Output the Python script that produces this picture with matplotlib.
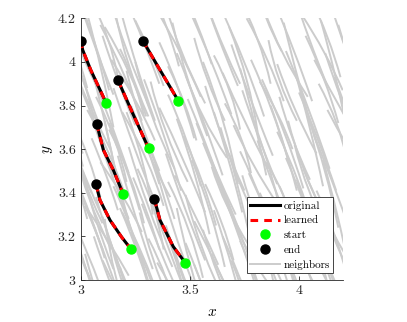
import matplotlib
matplotlib.use('Agg')
import matplotlib.pyplot as plt
from matplotlib.path import Path
from matplotlib.patches import PathPatch
from matplotlib.lines import Line2D

plt.rcParams['font.family'] = 'serif'
plt.rcParams['font.serif'] = ['cmr10', 'DejaVu Serif']
plt.rcParams['mathtext.fontset'] = 'cm'
plt.rcParams['axes.unicode_minus'] = False

# neighbor trajectories: upper point, displacement to lower point, bend
nb_x0 = [2.88, 2.97, 3.05, 3.12, 3.20, 3.31, 3.38, 3.47, 3.55, 3.63, 3.72, 3.80, 3.88, 3.97, 4.05, 4.14,
         2.84, 2.93, 3.02, 3.10, 3.18, 3.25, 3.36, 3.44, 3.52, 3.61, 3.69, 3.78, 3.86, 3.94, 4.03, 4.12,
         2.82, 2.90, 2.99, 3.07, 3.15, 3.23, 3.32, 3.40, 3.49, 3.57, 3.66, 3.74, 3.83, 3.91, 4.00, 4.09,
         2.80, 2.89, 2.97, 3.05, 3.13, 3.22, 3.30, 3.39, 3.47, 3.56, 3.64, 3.73, 3.81, 3.90, 3.98, 4.07,
         2.82, 2.90, 2.98, 3.07, 3.15, 3.24, 3.31, 3.40, 3.48, 3.57, 3.65, 3.74, 3.82, 3.91, 3.99, 4.08,
         2.81, 2.89, 2.98, 3.06, 3.14, 3.23, 3.31, 3.39, 3.48, 3.56, 3.65, 3.73, 3.82, 3.90, 3.98, 4.07,
         2.86, 2.95, 3.03, 3.11, 3.19, 2.87, 2.96, 3.04, 3.13, 3.21, 2.85, 2.94, 3.02, 3.10, 3.18, 3.27,
         2.92, 3.01, 3.09, 3.16, 3.25, 3.34, 3.42, 3.51, 3.59, 3.68, 3.76, 3.84, 3.93, 4.01, 4.10, 4.18,
         2.87, 2.96, 3.06, 3.14, 3.21, 3.29, 3.40, 3.48, 3.56, 3.65, 3.73, 3.82, 3.90, 3.98, 4.07, 4.16,
         2.85, 2.94, 3.03, 3.11, 3.19, 3.27, 3.36, 3.44, 3.53, 3.61, 3.70, 3.78, 3.87, 3.95, 4.04, 4.13,
         2.84, 2.93, 3.01, 3.09, 3.17, 3.26, 3.34, 3.43, 3.51, 3.60, 3.68, 3.77, 3.85, 3.94, 4.02, 4.11,
         2.86, 2.94, 3.02, 3.11, 3.19, 3.28, 3.35, 3.44, 3.52, 3.61, 3.69, 3.78, 3.86, 3.95, 4.03, 4.12,
         2.85, 2.93, 3.02, 3.10, 3.18, 3.27, 3.35, 3.43, 3.52, 3.60, 3.69, 3.77, 3.86, 3.94, 4.02, 4.11]
nb_y0 = [4.30, 4.35, 4.28, 4.33, 4.30, 4.36, 4.29, 4.32, 4.34, 4.27, 4.31, 4.35, 4.29, 4.33, 4.30, 4.28,
         4.05, 4.10, 4.02, 4.12, 4.06, 4.00, 4.09, 4.04, 4.11, 4.03, 4.08, 4.01, 4.10, 4.05, 4.12, 4.04,
         3.86, 3.82, 3.90, 3.84, 3.88, 3.80, 3.91, 3.85, 3.83, 3.89, 3.81, 3.87, 3.92, 3.84, 3.86, 3.90,
         3.62, 3.67, 3.60, 3.65, 3.69, 3.61, 3.64, 3.58, 3.66, 3.63, 3.70, 3.59, 3.64, 3.68, 3.62, 3.66,
         3.44, 3.40, 3.46, 3.38, 3.43, 3.47, 3.41, 3.45, 3.39, 3.44, 3.42, 3.48, 3.40, 3.43, 3.46, 3.41,
         3.21, 3.18, 3.24, 3.20, 3.16, 3.22, 3.19, 3.25, 3.17, 3.23, 3.20, 3.18, 3.24, 3.21, 3.19, 3.22,
         4.20, 4.18, 4.22, 4.16, 4.21, 3.76, 3.74, 3.78, 3.72, 3.77, 3.32, 3.30, 3.34, 3.29, 3.33, 3.31,
         4.20, 4.24, 4.17, 4.22, 4.19, 4.25, 4.18, 4.21, 4.23, 4.16, 4.20, 4.24, 4.18, 4.22, 4.19, 4.17,
         3.95, 3.99, 3.93, 4.01, 3.96, 3.92, 3.98, 3.94, 4.00, 3.95, 3.97, 3.91, 3.99, 3.96, 4.01, 3.93,
         3.75, 3.71, 3.78, 3.73, 3.77, 3.70, 3.79, 3.74, 3.72, 3.77, 3.71, 3.76, 3.80, 3.73, 3.75, 3.78,
         3.52, 3.56, 3.50, 3.54, 3.57, 3.51, 3.53, 3.48, 3.55, 3.52, 3.58, 3.49, 3.54, 3.56, 3.51, 3.55,
         3.32, 3.29, 3.34, 3.28, 3.31, 3.35, 3.30, 3.33, 3.27, 3.32, 3.30, 3.36, 3.29, 3.31, 3.34, 3.30,
         3.10, 3.07, 3.12, 3.09, 3.06, 3.11, 3.08, 3.13, 3.07, 3.12, 3.09, 3.07, 3.13, 3.10, 3.08, 3.11]
nb_dx = [0.15, 0.18, 0.12, 0.20, 0.16, 0.14, 0.19, 0.13, 0.17, 0.21, 0.15, 0.12, 0.18, 0.16, 0.14, 0.19,
         0.17, 0.13, 0.20, 0.15, 0.11, 0.18, 0.16, 0.21, 0.14, 0.12, 0.19, 0.17, 0.13, 0.20, 0.15, 0.16,
         0.12, 0.19, 0.16, 0.14, 0.21, 0.13, 0.17, 0.15, 0.20, 0.18, 0.12, 0.16, 0.19, 0.14, 0.17, 0.13,
         0.19, 0.14, 0.17, 0.12, 0.16, 0.20, 0.13, 0.18, 0.15, 0.21, 0.14, 0.19, 0.12, 0.17, 0.16, 0.20,
         0.14, 0.20, 0.13, 0.18, 0.15, 0.12, 0.21, 0.16, 0.19, 0.13, 0.17, 0.15, 0.20, 0.12, 0.18, 0.14,
         0.16, 0.12, 0.19, 0.15, 0.20, 0.17, 0.13, 0.14, 0.18, 0.16, 0.21, 0.13, 0.15, 0.19, 0.12, 0.17,
         0.14, 0.17, 0.12, 0.19, 0.15, 0.16, 0.13, 0.18, 0.14, 0.12, 0.17, 0.15, 0.19, 0.13, 0.16, 0.14,
         0.17, 0.12, 0.19, 0.15, 0.13, 0.21, 0.16, 0.18, 0.14, 0.13, 0.17, 0.20, 0.15, 0.19, 0.12, 0.16,
         0.14, 0.18, 0.12, 0.20, 0.15, 0.17, 0.13, 0.19, 0.16, 0.21, 0.12, 0.15, 0.18, 0.13, 0.20, 0.14,
         0.20, 0.16, 0.17, 0.12, 0.19, 0.14, 0.21, 0.15, 0.18, 0.13, 0.20, 0.16, 0.12, 0.17, 0.14, 0.19,
         0.13, 0.17, 0.14, 0.19, 0.16, 0.12, 0.18, 0.20, 0.15, 0.17, 0.13, 0.21, 0.14, 0.16, 0.19, 0.12,
         0.16, 0.15, 0.20, 0.13, 0.17, 0.19, 0.12, 0.14, 0.21, 0.16, 0.18, 0.11, 0.15, 0.20, 0.13, 0.17,
         0.19, 0.14, 0.16, 0.18, 0.12, 0.15, 0.21, 0.17, 0.13, 0.19, 0.14, 0.16, 0.20, 0.12, 0.18, 0.15]
nb_dy = [-0.42, -0.50, -0.35, -0.55, -0.40, -0.38, -0.48, -0.33, -0.45, -0.52, -0.41, -0.30, -0.47, -0.44, -0.37, -0.50,
         -0.47, -0.36, -0.53, -0.41, -0.31, -0.49, -0.44, -0.56, -0.38, -0.34, -0.51, -0.46, -0.37, -0.54, -0.40, -0.43,
         -0.33, -0.51, -0.44, -0.39, -0.57, -0.36, -0.46, -0.42, -0.53, -0.48, -0.32, -0.43, -0.50, -0.38, -0.45, -0.35,
         -0.50, -0.39, -0.46, -0.33, -0.43, -0.55, -0.36, -0.49, -0.41, -0.56, -0.37, -0.52, -0.32, -0.45, -0.42, -0.54,
         -0.38, -0.54, -0.36, -0.49, -0.41, -0.33, -0.57, -0.44, -0.51, -0.35, -0.46, -0.40, -0.53, -0.32, -0.48, -0.39,
         -0.43, -0.33, -0.51, -0.40, -0.55, -0.46, -0.36, -0.38, -0.49, -0.42, -0.57, -0.35, -0.41, -0.52, -0.32, -0.47,
         -0.45, -0.38, -0.52, -0.41, -0.48, -0.43, -0.36, -0.50, -0.40, -0.47, -0.44, -0.39, -0.53, -0.37, -0.46, -0.42,
         -0.50, -0.37, -0.44, -0.47, -0.30, -0.41, -0.52, -0.45, -0.33, -0.48, -0.38, -0.40, -0.55, -0.35, -0.50, -0.42,
         -0.43, -0.40, -0.54, -0.37, -0.46, -0.51, -0.34, -0.38, -0.56, -0.44, -0.49, -0.31, -0.41, -0.53, -0.36, -0.47,
         -0.35, -0.45, -0.38, -0.50, -0.43, -0.32, -0.48, -0.53, -0.42, -0.46, -0.36, -0.57, -0.39, -0.44, -0.51, -0.33,
         -0.54, -0.42, -0.45, -0.32, -0.52, -0.37, -0.56, -0.41, -0.49, -0.36, -0.55, -0.43, -0.33, -0.46, -0.39, -0.50,
         -0.39, -0.48, -0.32, -0.53, -0.40, -0.46, -0.35, -0.51, -0.44, -0.57, -0.33, -0.41, -0.49, -0.36, -0.54, -0.38,
         -0.47, -0.32, -0.52, -0.41, -0.35, -0.57, -0.42, -0.49, -0.38, -0.36, -0.46, -0.55, -0.40, -0.51, -0.33, -0.43]
nb_bend = [0.02, -0.01, 0.03, -0.02, 0.01, 0.02, -0.03, 0.01, -0.01, 0.02, 0.03, -0.02, 0.01, -0.01, 0.02, -0.02,
           -0.02, 0.03, 0.01, -0.01, 0.02, -0.03, 0.02, 0.01, -0.02, 0.03, -0.01, 0.02, -0.03, 0.01, 0.02, -0.01,
           0.01, -0.02, 0.02, 0.03, -0.01, 0.01, -0.03, 0.02, 0.01, -0.02, 0.03, -0.01, 0.02, -0.02, 0.01, 0.03,
           -0.01, 0.02, -0.03, 0.01, 0.03, -0.02, 0.01, -0.01, 0.02, 0.01, -0.02, 0.03, -0.01, 0.02, -0.03, 0.01,
           0.03, -0.01, 0.01, -0.02, 0.02, 0.01, -0.01, 0.03, -0.03, 0.02, 0.01, -0.02, 0.02, 0.01, -0.01, 0.02,
           -0.02, 0.01, 0.02, -0.01, -0.03, 0.02, 0.03, -0.01, 0.01, -0.02, 0.02, 0.01, -0.03, 0.02, 0.01, -0.01,
           0.02, -0.02, 0.01, 0.03, -0.01, -0.02, 0.02, -0.01, 0.01, 0.03, 0.01, -0.03, 0.02, -0.01, 0.02, -0.02,
           -0.01, 0.01, 0.02, -0.03, 0.01, 0.02, -0.02, 0.01, -0.01, 0.03, 0.02, -0.03, -0.01, 0.02, 0.01, -0.02,
           0.02, -0.01, 0.01, 0.02, -0.02, 0.01, 0.02, -0.03, 0.03, -0.01, 0.01, 0.02, -0.02, 0.01, -0.01, 0.03,
           0.01, -0.03, 0.02, -0.01, 0.03, -0.02, 0.01, 0.02, -0.01, 0.01, -0.02, 0.03, 0.01, -0.03, 0.02, -0.01,
           0.03, 0.01, -0.02, 0.02, -0.01, 0.03, -0.02, 0.01, 0.02, -0.03, 0.01, -0.01, 0.03, 0.02, -0.02, 0.01,
           -0.01, 0.02, 0.01, -0.03, 0.02, -0.01, 0.03, -0.02, 0.01, 0.02, -0.03, 0.02, -0.01, 0.01, 0.03, -0.02,
           -0.02, 0.02, -0.01, 0.01, -0.02, 0.03, 0.02, -0.01, 0.01, -0.03, 0.02, 0.01, -0.02, 0.03, -0.01, 0.02]

# highlighted trajectories, listed from end (top) to start (bottom)
traj_x = [[3.000, 3.009, 3.046, 3.116],
          [3.284, 3.365, 3.447],
          [3.171, 3.240, 3.311],
          [3.073, 3.104, 3.149, 3.194],
          [3.070, 3.088, 3.134, 3.188, 3.230],
          [3.337, 3.363, 3.424, 3.479]]
traj_y = [[4.098, 4.055, 3.963, 3.813],
          [4.098, 3.960, 3.822],
          [3.916, 3.760, 3.604],
          [3.717, 3.596, 3.505, 3.396],
          [3.440, 3.367, 3.275, 3.196, 3.142],
          [3.372, 3.275, 3.153, 3.079]]

xticks = [3, 3.5, 4]
xticklabels = ['3', '3.5', '4']
yticks = [3, 3.2, 3.4, 3.6, 3.8, 4, 4.2]
yticklabels = ['3', '3.2', '3.4', '3.6', '3.8', '4', '4.2']

gray = (0.8, 0.8, 0.8)

fig = plt.figure(figsize=(4.07, 3.22), dpi=100)
ax = fig.add_axes([0.1983, 0.1304, 0.6437, 0.8127])

# neighbors
for x0, y0, dx, dy, b in zip(nb_x0, nb_y0, nb_dx, nb_dy, nb_bend):
    verts = [(x0, y0), (x0 + dx / 2 + b, y0 + dy / 2), (x0 + dx, y0 + dy)]
    codes = [Path.MOVETO, Path.CURVE3, Path.CURVE3]
    ax.add_patch(PathPatch(Path(verts, codes), fill=False, edgecolor=gray,
                           linewidth=1.4, zorder=1))

for tx, ty in zip(traj_x, traj_y):
    ax.plot(tx, ty, color='black', linewidth=2.2, zorder=3, solid_capstyle='butt')
    ax.plot(tx, ty, color='red', linewidth=2.2, linestyle=(0, (2.5, 2)), zorder=4)
    ax.plot(tx[-1], ty[-1], 'o', color=(0, 1, 0), markersize=6.5, zorder=5)
    ax.plot(tx[0], ty[0], 'o', color='black', markersize=6.5, zorder=5)

ax.set_xlim(3, 4.2)
ax.set_ylim(3, 4.2)
ax.set_xticks(xticks)
ax.set_xticklabels(xticklabels)
ax.set_yticks(yticks)
ax.set_yticklabels(yticklabels)
ax.tick_params(direction='in', length=3, width=0.6, labelsize=10, colors='#262626')
ax.spines['top'].set_visible(False)
ax.spines['right'].set_visible(False)
for s in ['left', 'bottom']:
    ax.spines[s].set_color('#262626')
    ax.spines[s].set_linewidth(0.6)

ax.set_xlabel('$x$', fontsize=11, labelpad=6)
ax.set_ylabel('$y$', fontsize=11, labelpad=2)

handles = [Line2D([], [], color='black', linewidth=2.2),
           Line2D([], [], color='red', linewidth=2.2, linestyle=(0, (2.5, 2))),
           Line2D([], [], marker='o', color=(0, 1, 0), linestyle='none', markersize=6.5),
           Line2D([], [], marker='o', color='black', linestyle='none', markersize=6.5),
           Line2D([], [], color=gray, linewidth=1.4)]
labels = ['original', 'learned', 'start', 'end', 'neighbors']
leg = ax.legend(handles, labels, loc='lower right', fontsize=8, fancybox=False,
                framealpha=1, edgecolor='#262626', handlelength=2.7,
                handletextpad=0.3, labelspacing=0.45, borderpad=0.3,
                borderaxespad=0.6, bbox_to_anchor=(0.99, 0.0))
leg.get_frame().set_linewidth(0.6)

fig.savefig('out.png', dpi=100)
